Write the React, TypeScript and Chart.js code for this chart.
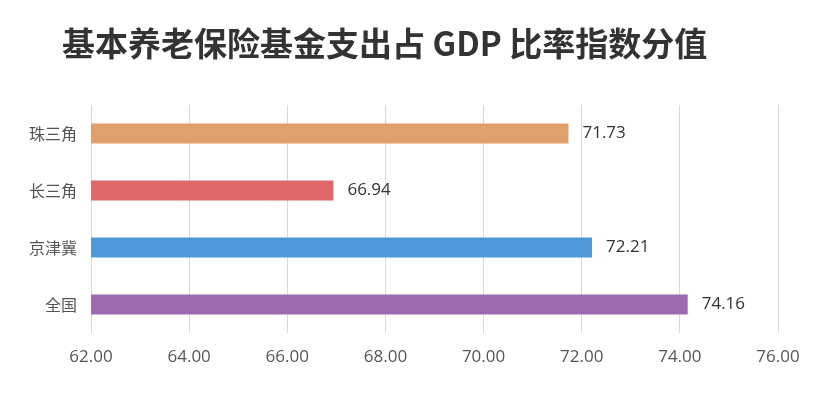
import React, { useEffect, useRef } from "react";
import { Chart, registerables } from "chart.js";

Chart.register(...registerables);

const TITLE = "基本养老保险基金支出占 GDP 比率指数分值";
const categories = ["珠三角", "长三角", "京津冀", "全国"];
const values = [71.73, 66.94, 72.21, 74.16];
const barColors = ["#DFA06B", "#E06868", "#4F98D7", "#9D6CB0"];
const X_MIN = 62;
const X_MAX = 76;
const X_STEP = 2;

const titlePlugin = {
  id: "customTitle",
  afterDraw(chart: any) {
    const ctx = chart.ctx;
    ctx.save();
    ctx.font = "bold 33px 'Noto Sans CJK SC', 'Noto Sans', sans-serif";
    ctx.fillStyle = "#333333";
    ctx.textAlign = "left";
    ctx.textBaseline = "middle";
    ctx.fillText(TITLE, 62, 43);
    ctx.restore();
  },
};

const valueLabelPlugin = {
  id: "valueLabels",
  afterDatasetsDraw(chart: any) {
    const ctx = chart.ctx;
    const meta = chart.getDatasetMeta(0);
    ctx.save();
    ctx.font = "17px 'Open Sans', 'Noto Sans', sans-serif";
    ctx.fillStyle = "#333333";
    ctx.textAlign = "left";
    ctx.textBaseline = "middle";
    meta.data.forEach((bar: any, i: number) => {
      ctx.fillText(values[i].toFixed(2), bar.x + 14, bar.y);
    });
    ctx.restore();
  },
};

export default function App() {
  const canvasRef = useRef<HTMLCanvasElement | null>(null);

  useEffect(() => {
    document.body.style.margin = "0";
    const canvas = canvasRef.current;
    if (!canvas) return;
    const chart = new Chart(canvas, {
      type: "bar",
      data: {
        labels: categories,
        datasets: [
          {
            data: values,
            backgroundColor: barColors,
            borderWidth: 0,
            barPercentage: 0.35,
            categoryPercentage: 1,
          },
        ],
      },
      options: {
        indexAxis: "y",
        animation: false,
        responsive: false,
        maintainAspectRatio: false,
        layout: { padding: { top: 105, right: 50, left: 0, bottom: 0 } },
        plugins: {
          legend: { display: false },
          title: { display: false },
          tooltip: { enabled: false },
        },
        scales: {
          x: {
            min: X_MIN,
            max: X_MAX,
            border: { display: false },
            grid: { color: "#d9d9d9", drawTicks: false, lineWidth: 1 },
            ticks: {
              stepSize: X_STEP,
              padding: 14,
              color: "#555555",
              font: { size: 17, family: "'Open Sans', 'Noto Sans', sans-serif" },
              callback: (v: any) => Number(v).toFixed(2),
            },
            afterFit: (scale: any) => {
              scale.height = 62;
            },
          },
          y: {
            border: { display: false },
            grid: { display: false, drawTicks: false },
            ticks: {
              padding: 14,
              color: "#555555",
              font: { size: 16, family: "'Noto Sans CJK SC', sans-serif" },
            },
            afterFit: (scale: any) => {
              scale.width = 91;
            },
          },
        },
      },
      plugins: [titlePlugin, valueLabelPlugin],
    });
    return () => chart.destroy();
  }, []);

  return (
    <div style={{ position: "relative", width: 828, height: 395, background: "#ffffff" }}>
      <canvas ref={canvasRef} width={828} height={395} style={{ display: "block" }} />
    </div>
  );
}
